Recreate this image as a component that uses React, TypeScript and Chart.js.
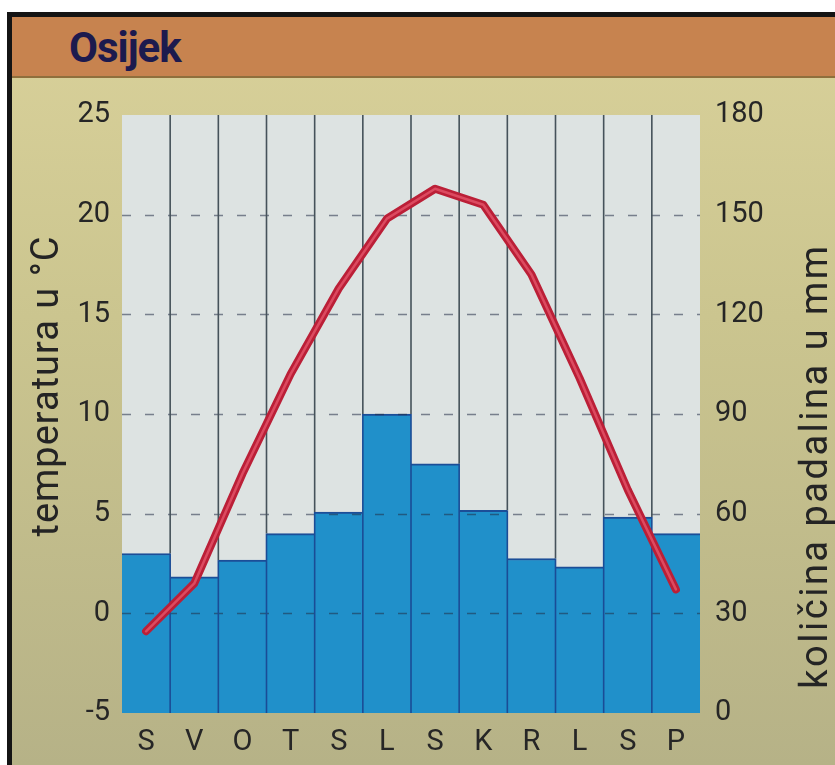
import React, { useEffect, useRef } from "react";
import { Chart, registerables } from "chart.js";

Chart.register(...registerables);

const months = ["S", "V", "O", "T", "S", "L", "S", "K", "R", "L", "S", "P"];
const temperature = [-0.9, 1.5, 7.0, 12.0, 16.3, 19.8, 21.3, 20.5, 17.0, 11.8, 6.2, 1.2];
const precipitation = [48, 41, 46, 54, 60.5, 90, 75, 61, 46.5, 44, 59, 54];
const tempTicks = [-5, 0, 5, 10, 15, 20, 25];
const precipTicks = [0, 30, 60, 90, 120, 150, 180];
const titleText = "Osijek";
const leftTitle = "temperatura u °C";
const rightTitle = "količina padalina u mm";

const FONT = "Roboto, 'Noto Sans', 'DejaVu Sans', sans-serif";

const climatePlugin = {
  id: "climatePlugin",
  beforeDatasetsDraw(chart: any) {
    const { ctx, chartArea } = chart;
    ctx.save();
    ctx.fillStyle = "#dde3e2";
    ctx.fillRect(chartArea.left, chartArea.top, chartArea.right - chartArea.left, chartArea.bottom - chartArea.top);
    ctx.restore();
  },
  afterDatasetDraw(chart: any, args: any) {
    if (args.index !== 0) return;
    const { ctx, chartArea } = chart;
    const yScale = chart.scales.y;
    const meta = chart.getDatasetMeta(0);
    ctx.save();
    ctx.setLineDash([9, 14]);
    ctx.lineWidth = 1.3;
    ctx.strokeStyle = "rgba(35,45,70,0.55)";
    tempTicks.forEach((t) => {
      if (t === tempTicks[0] || t === tempTicks[tempTicks.length - 1]) return;
      const y = Math.round(yScale.getPixelForValue(t)) + 0.5;
      ctx.beginPath();
      ctx.moveTo(chartArea.left, y);
      ctx.lineTo(chartArea.right, y);
      ctx.stroke();
    });
    ctx.setLineDash([]);
    const n = months.length;
    const w = (chartArea.right - chartArea.left) / n;
    ctx.lineWidth = 1.6;
    for (let i = 1; i < n; i++) {
      const x = chartArea.left + i * w;
      const hi = Math.min(meta.data[i - 1].y, meta.data[i].y);
      ctx.strokeStyle = "#45525a";
      ctx.beginPath();
      ctx.moveTo(x, chartArea.top);
      ctx.lineTo(x, hi);
      ctx.stroke();
      ctx.strokeStyle = "#1a4c96";
      ctx.beginPath();
      ctx.moveTo(x, hi);
      ctx.lineTo(x, chartArea.bottom);
      ctx.stroke();
    }
    ctx.restore();
  },
  afterDraw(chart: any) {
    const { ctx } = chart;
    ctx.save();
    ctx.fillStyle = "#242424";
    ctx.textAlign = "center";
    ctx.textBaseline = "alphabetic";
    ctx.font = `38px ${FONT}`;
    (ctx as any).letterSpacing = "1px";
    ctx.translate(46, 308);
    ctx.rotate(-Math.PI / 2);
    ctx.fillText(leftTitle, 0, 0);
    ctx.restore();
    ctx.save();
    ctx.fillStyle = "#242424";
    ctx.textAlign = "center";
    ctx.textBaseline = "alphabetic";
    ctx.font = `38px ${FONT}`;
    (ctx as any).letterSpacing = "2.5px";
    ctx.translate(815, 388);
    ctx.rotate(-Math.PI / 2);
    ctx.fillText(rightTitle, 0, 0);
    ctx.restore();
  },
};

export default function App() {
  const canvasRef = useRef<HTMLCanvasElement | null>(null);

  useEffect(() => {
    if (!canvasRef.current) return;
    const chart = new Chart(canvasRef.current, {
      type: "bar",
      data: {
        labels: months,
        datasets: [
          {
            type: "bar",
            label: "padaline",
            data: precipitation,
            yAxisID: "y1",
            backgroundColor: "#2090ca",
            borderColor: "#1b4e98",
            borderWidth: { top: 2, left: 0, right: 0, bottom: 0 },
            barPercentage: 1,
            categoryPercentage: 1,
            order: 3,
          },
          {
            type: "line",
            label: "temperatura",
            data: temperature,
            yAxisID: "y",
            borderColor: "#bb1f37",
            borderWidth: 8,
            pointRadius: 0,
            tension: 0,
            borderCapStyle: "round",
            borderJoinStyle: "round",
            fill: false,
            order: 2,
          },
          {
            type: "line",
            label: "temperatura2",
            data: temperature,
            yAxisID: "y",
            borderColor: "#dc4a60",
            borderWidth: 2.5,
            pointRadius: 0,
            tension: 0,
            borderCapStyle: "round",
            borderJoinStyle: "round",
            fill: false,
            order: 1,
          },
        ],
      } as any,
      options: {
        responsive: false,
        animation: false,
        layout: { padding: { top: 37, left: 0, right: 0, bottom: 0 } },
        plugins: {
          legend: { display: false },
          tooltip: { enabled: false },
          title: { display: false },
        },
        scales: {
          x: {
            grid: { display: false, drawTicks: false },
            border: { display: false },
            ticks: {
              color: "#262626",
              font: { family: FONT, size: 29 },
              padding: 12,
              maxRotation: 0,
              autoSkip: false,
            },
            afterFit: (s: any) => {
              s.height = 52;
            },
          },
          y: {
            position: "left",
            min: -5,
            max: 25,
            afterBuildTicks: (s: any) => {
              s.ticks = tempTicks.map((v) => ({ value: v }));
            },
            grid: { display: false, drawTicks: false },
            border: { display: false },
            ticks: {
              color: "#262626",
              font: { family: FONT, size: 29 },
              padding: 12,
            },
            afterFit: (s: any) => {
              s.width = 110;
            },
          },
          y1: {
            position: "right",
            min: 0,
            max: 180,
            afterBuildTicks: (s: any) => {
              s.ticks = precipTicks.map((v) => ({ value: v }));
            },
            grid: { display: false, drawTicks: false },
            border: { display: false },
            ticks: {
              color: "#262626",
              font: { family: FONT, size: 29 },
              padding: 15,
            },
            afterFit: (s: any) => {
              s.width = 135;
            },
          },
        },
      } as any,
      plugins: [climatePlugin],
    });
    return () => chart.destroy();
  }, []);

  return (
    <div
      style={{
        position: "absolute",
        left: 0,
        top: 0,
        width: 835,
        height: 765,
        background: "#ffffff",
        overflow: "hidden",
      }}
    >
      <div
        style={{
          position: "absolute",
          left: 7,
          top: 12,
          width: 828,
          height: 753,
          background: "#141414",
        }}
      />
      <div
        style={{
          position: "absolute",
          left: 12,
          top: 17,
          width: 823,
          height: 748,
          background: "linear-gradient(180deg, #d9d19a 0%, #cbc58f 40%, #b6b287 100%)",
        }}
      />
      <div
        style={{
          position: "absolute",
          left: 12,
          top: 17,
          width: 823,
          height: 59,
          background: "#c7834f",
          borderBottom: "2px solid #8f6f3c",
        }}
      />
      <div
        style={{
          position: "absolute",
          left: 69,
          top: 27,
          fontFamily: FONT,
          fontWeight: 700,
          fontSize: 42,
          lineHeight: 1,
          letterSpacing: "-1px",
          color: "#1c1a4e",
          whiteSpace: "nowrap",
        }}
      >
        {titleText}
      </div>
      <canvas
        ref={canvasRef}
        width={823}
        height={687}
        style={{ position: "absolute", left: 12, top: 78, width: 823, height: 687 }}
      />
    </div>
  );
}
